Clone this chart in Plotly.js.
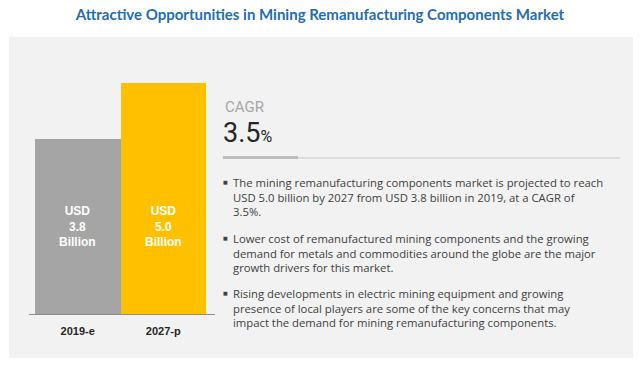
<!DOCTYPE html>
<html>
<head>
<meta charset="utf-8">
<script src="https://cdn.plot.ly/plotly-3.0.1.min.js"></script>
<style>html,body{margin:0;padding:0;background:#fff;}#chart{width:640px;height:366px;}</style>
</head>
<body>
<div id="chart"></div>
<script>
var categories = ['2019-e', '2027-p'];
var values = [3.8, 5.0];
var barColors = ['#A5A5A5', '#FFC000'];
var barLabels = ['USD<br>3.8<br>Billion', 'USD<br>5.0<br>Billion'];
var cagrLabel = 'CAGR';
var cagrValue = '3.5';
var bullets = [
  'The mining remanufacturing components market is projected to reach<br>USD 5.0 billion by 2027 from USD 3.8 billion in 2019, at a CAGR of<br>3.5%.',
  'Lower cost of remanufactured mining components and the growing<br>demand for metals and commodities around the globe are the major<br>growth drivers for this market.',
  'Rising developments in electric mining equipment and growing<br>presence of local players are some of the key concerns that may<br>impact the demand for mining remanufacturing components.'
];

// plot area in pixels: x 29..215, y 37..314
var L = 29, R = 215, T = 37, B = 314;
function px(x){ return (x - L) / (R - L); }
function py(y){ return (B - y) / (B - T); }

var trace = {
  type: 'bar',
  x: categories,
  y: values,
  width: 1,
  marker: {color: barColors, line: {width: 0}},
  hoverinfo: 'none'
};

var annotations = [];
categories.forEach(function(c, i){
  annotations.push({
    x: c, y: 1.9, xref: 'x', yref: 'y', text: barLabels[i], showarrow: false,
    font: {family: 'Liberation Sans, Arial, sans-serif', size: 12, color: '#ffffff', weight: 'bold'},
    align: 'center', xanchor: 'center', yanchor: 'middle'
  });
});
annotations.push({
  x: px(223), y: py(107), xref: 'paper', yref: 'paper', text: cagrLabel, showarrow: false,
  xanchor: 'left', yanchor: 'middle', font: {family: 'Roboto, sans-serif', size: 15, color: '#a6a6a6'}
});
annotations.push({
  x: px(221), y: py(133), xref: 'paper', yref: 'paper',
  text: cagrValue + '<span style="font-size:16px">%</span>', showarrow: false,
  xanchor: 'left', yanchor: 'middle', font: {family: 'Roboto, sans-serif', size: 27, color: '#262626'}
});
var bulletY = [197, 253, 308];
var bulletTopY = [182, 238, 293];
bullets.forEach(function(b, i){
  annotations.push({
    x: px(231), y: py(bulletY[i]), xref: 'paper', yref: 'paper', text: b, showarrow: false,
    xanchor: 'left', yanchor: 'middle', align: 'left',
    font: {family: 'Open Sans, sans-serif', size: 11.3, color: '#404040'}
  });
  annotations.push({
    x: px(225), y: py(bulletTopY[i]), xref: 'paper', yref: 'paper', text: '■', showarrow: false,
    xanchor: 'center', yanchor: 'middle',
    font: {family: 'DejaVu Sans, sans-serif', size: 5, color: '#404040'}
  });
});

var shapes = [
  {type: 'rect', xref: 'paper', yref: 'paper', x0: px(9), x1: px(633), y0: py(358), y1: py(37),
   fillcolor: '#f2f2f2', line: {width: 0}, layer: 'below'},
  {type: 'line', xref: 'paper', yref: 'paper', x0: px(223), x1: px(620), y0: py(158), y1: py(158),
   line: {color: '#c8c8c8', width: 1}},
  {type: 'line', xref: 'paper', yref: 'paper', x0: px(223), x1: px(298), y0: py(157.5), y1: py(157.5),
   line: {color: '#bdbdbd', width: 3}}
];

var layout = {
  width: 640, height: 366,
  margin: {l: L, r: 640 - R, t: T, b: 366 - B, pad: 0},
  paper_bgcolor: '#ffffff',
  plot_bgcolor: 'rgba(0,0,0,0)',
  showlegend: false,
  title: {
    text: '<b>Attractive Opportunities in Mining Remanufacturing Components Market</b>',
    font: {family: 'Lato, sans-serif', size: 15, color: '#1f6db3'},
    x: 0.5, xanchor: 'center', xref: 'container', y: 1 - 15/366, yanchor: 'middle', yref: 'container'
  },
  xaxis: {
    type: 'category', range: [-0.57, 1.605], showline: true, linecolor: '#8c8c8c', linewidth: 1,
    showgrid: false, zeroline: false, ticks: '', ticklabelstandoff: 7,
    tickfont: {family: 'Liberation Sans, Arial, sans-serif', size: 11, color: '#262626', weight: 'bold'},
    fixedrange: true
  },
  yaxis: {range: [0, 6], visible: false, showgrid: false, zeroline: false, fixedrange: true},
  annotations: annotations,
  shapes: shapes,
  bargap: 0
};

Plotly.newPlot('chart', [trace], layout, {displayModeBar: false, staticPlot: true});
</script>
</body>
</html>
